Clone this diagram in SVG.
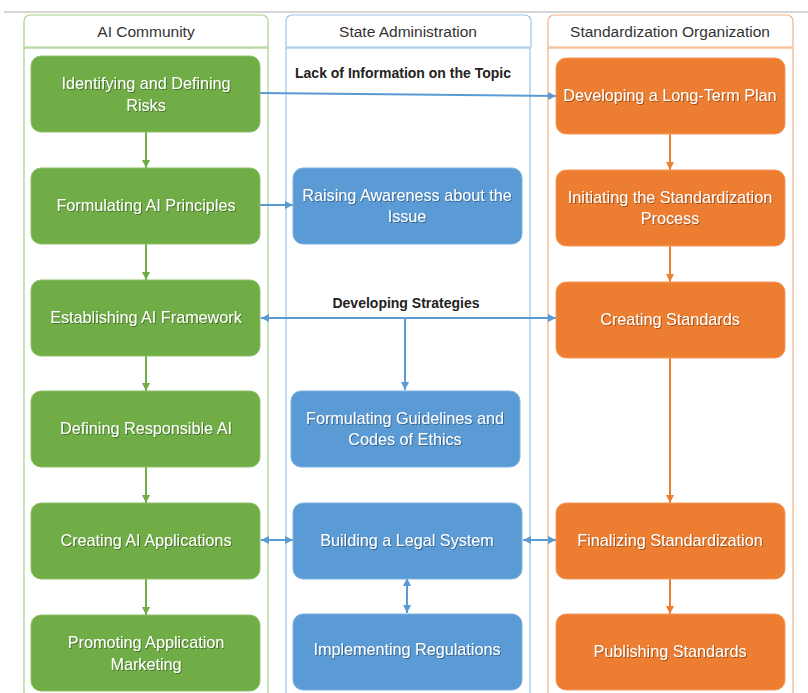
<svg xmlns="http://www.w3.org/2000/svg" width="808" height="693" viewBox="0 0 808 693">
<defs>
<style>
.hdr{font-family:"Liberation Sans",Arial,sans-serif;font-size:15.5px;fill:#333;text-anchor:middle}
.nt{font-family:"Liberation Sans",Arial,sans-serif;font-size:16.2px;fill:#fff;text-anchor:middle;filter:url(#ts)}
.lbl{font-family:"Liberation Sans",Arial,sans-serif;font-size:14px;font-weight:bold;fill:#222;text-anchor:middle}
.g{fill:#70AD47;stroke:#8CC168;stroke-width:1}
.b{fill:#5B9BD5;stroke:#7FB2E0;stroke-width:1}
.o{fill:#ED7D31;stroke:#F29A5E;stroke-width:1}
.cg{stroke:#70AD47;stroke-width:2;fill:none}
.cb{stroke:#5B9BD5;stroke-width:2;fill:none}
.co{stroke:#ED7D31;stroke-width:2;fill:none}
</style>
<filter id="ts" x="-10%" y="-30%" width="120%" height="160%">
<feDropShadow dx="1" dy="1" stdDeviation="0.6" flood-color="#000" flood-opacity="0.35"/>
</filter>
<marker id="ag" viewBox="0 0 8 8" refX="8" refY="4" markerWidth="8" markerHeight="8" markerUnits="userSpaceOnUse" orient="auto-start-reverse"><path d="M0,0 L8,4 L0,8 z" fill="#70AD47"/></marker>
<marker id="ab" viewBox="0 0 8 8" refX="8" refY="4" markerWidth="8" markerHeight="8" markerUnits="userSpaceOnUse" orient="auto-start-reverse"><path d="M0,0 L8,4 L0,8 z" fill="#5B9BD5"/></marker>
<marker id="ao" viewBox="0 0 8 8" refX="8" refY="4" markerWidth="8" markerHeight="8" markerUnits="userSpaceOnUse" orient="auto-start-reverse"><path d="M0,0 L8,4 L0,8 z" fill="#ED7D31"/></marker>
</defs>
<rect width="808" height="693" fill="#fff"/>
<line x1="4" y1="12" x2="808" y2="12" stroke="#c8c8c8" stroke-width="1.5"/>

<g id="lane-ai">
<path d="M24,47 V21 a6,6 0 0 1 6,-6 H262 a6,6 0 0 1 6,6 V47 Z" fill="#fff" stroke="#A9D18E" stroke-width="1.2"/>
<rect x="24" y="48" width="244" height="660" fill="none" stroke="#A9D18E" stroke-width="1.2"/>
<text class="hdr" x="146" y="37">AI Community</text>
</g>
<g id="lane-state">
<path d="M286,47 V21 a6,6 0 0 1 6,-6 H525 a6,6 0 0 1 6,6 V47 Z" fill="#fff" stroke="#9DC3E6" stroke-width="1.2"/>
<rect x="286" y="48" width="244" height="660" fill="none" stroke="#9DC3E6" stroke-width="1.2"/>
<text class="hdr" x="408" y="37">State Administration</text>
</g>
<g id="lane-std">
<path d="M548,47 V21 a6,6 0 0 1 6,-6 H787 a6,6 0 0 1 6,6 V47 Z" fill="#fff" stroke="#F4B183" stroke-width="1.2"/>
<rect x="548" y="48" width="245" height="660" fill="none" stroke="#F4B183" stroke-width="1.2"/>
<text class="hdr" x="670" y="37">Standardization Organization</text>
</g>

<g id="connectors">
<line class="cg" x1="146" y1="132" x2="146" y2="168" marker-end="url(#ag)"/>
<line class="cg" x1="146" y1="244" x2="146" y2="280" marker-end="url(#ag)"/>
<line class="cg" x1="146" y1="356" x2="146" y2="391" marker-end="url(#ag)"/>
<line class="cg" x1="146" y1="467" x2="146" y2="503" marker-end="url(#ag)"/>
<line class="cg" x1="146" y1="579" x2="146" y2="615" marker-end="url(#ag)"/>
<line class="co" x1="670" y1="134" x2="670" y2="170" marker-end="url(#ao)"/>
<line class="co" x1="670" y1="246" x2="670" y2="282" marker-end="url(#ao)"/>
<line class="co" x1="670" y1="358" x2="670" y2="503" marker-end="url(#ao)"/>
<line class="co" x1="670" y1="579" x2="670" y2="614" marker-end="url(#ao)"/>
<path class="cb" d="M260,93 L556,96" marker-end="url(#ab)"/>
<line class="cb" x1="260" y1="205" x2="293" y2="205" marker-end="url(#ab)"/>
<line class="cb" x1="261" y1="318" x2="556" y2="318" marker-start="url(#ab)" marker-end="url(#ab)"/>
<line class="cb" x1="405" y1="318" x2="405" y2="390" marker-end="url(#ab)"/>
<line class="cb" x1="261" y1="540" x2="293" y2="540" marker-start="url(#ab)" marker-end="url(#ab)"/>
<line class="cb" x1="523" y1="540" x2="556" y2="540" marker-start="url(#ab)" marker-end="url(#ab)"/>
<line class="cb" x1="407" y1="578" x2="407" y2="613" marker-start="url(#ab)" marker-end="url(#ab)"/>
<text class="lbl" x="403" y="78">Lack of Information on the Topic</text>
<text class="lbl" x="406" y="308">Developing Strategies</text>
</g>

<g id="n-identify"><rect class="g" x="31" y="56" width="229" height="76" rx="10"/><text class="nt" x="146" y="89">Identifying and Defining</text><text class="nt" x="146" y="111">Risks</text></g>
<g id="n-principles"><rect class="g" x="31" y="168" width="229" height="76" rx="10"/><text class="nt" x="146" y="211">Formulating AI Principles</text></g>
<g id="n-framework"><rect class="g" x="31" y="280" width="229" height="76" rx="10"/><text class="nt" x="146" y="323">Establishing AI Framework</text></g>
<g id="n-responsible"><rect class="g" x="31" y="391" width="229" height="76" rx="10"/><text class="nt" x="146" y="434">Defining Responsible AI</text></g>
<g id="n-apps"><rect class="g" x="31" y="503" width="229" height="76" rx="10"/><text class="nt" x="146" y="546">Creating AI Applications</text></g>
<g id="n-marketing"><rect class="g" x="31" y="615" width="229" height="76" rx="10"/><text class="nt" x="146" y="648">Promoting Application</text><text class="nt" x="146" y="670">Marketing</text></g>

<g id="n-awareness"><rect class="b" x="293" y="168" width="229" height="76" rx="10"/><text class="nt" x="407" y="201">Raising Awareness about the</text><text class="nt" x="407" y="222">Issue</text></g>
<g id="n-guidelines"><rect class="b" x="291" y="391" width="229" height="76" rx="10"/><text class="nt" x="405" y="424">Formulating Guidelines and</text><text class="nt" x="405" y="445">Codes of Ethics</text></g>
<g id="n-legal"><rect class="b" x="293" y="503" width="229" height="76" rx="10"/><text class="nt" x="407" y="546">Building a Legal System</text></g>
<g id="n-regulations"><rect class="b" x="293" y="614" width="229" height="76" rx="10"/><text class="nt" x="407" y="655">Implementing Regulations</text></g>

<g id="n-plan"><rect class="o" x="556" y="58" width="229" height="76" rx="10"/><text class="nt" x="670" y="101">Developing a Long-Term Plan</text></g>
<g id="n-initiate"><rect class="o" x="556" y="170" width="229" height="76" rx="10"/><text class="nt" x="670" y="203">Initiating the Standardization</text><text class="nt" x="670" y="224">Process</text></g>
<g id="n-creating"><rect class="o" x="556" y="282" width="229" height="76" rx="10"/><text class="nt" x="670" y="325">Creating Standards</text></g>
<g id="n-finalize"><rect class="o" x="556" y="503" width="229" height="76" rx="10"/><text class="nt" x="670" y="546">Finalizing Standardization</text></g>
<g id="n-publish"><rect class="o" x="556" y="614" width="229" height="76" rx="10"/><text class="nt" x="670" y="657">Publishing Standards</text></g>
</svg>
